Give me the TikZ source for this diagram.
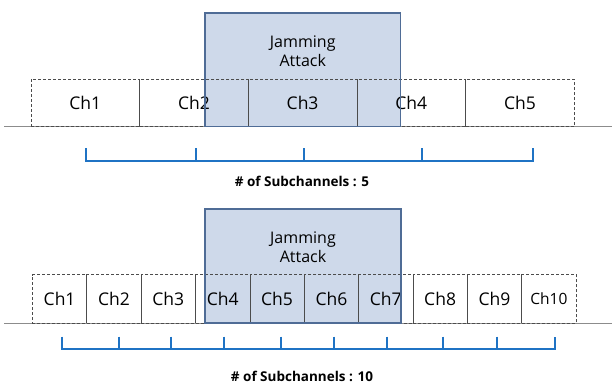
\documentclass[tikz,border=0pt]{standalone}
\usepackage{fontspec}
\setmainfont{Open Sans}
\usetikzlibrary{positioning}
\definecolor{jamfill}{RGB}{206,217,234}
\definecolor{jamline}{RGB}{79,108,150}
\definecolor{subblue}{RGB}{31,115,196}
\definecolor{axisgray}{RGB}{140,140,140}
\tikzstyle{every node}=[inner sep=0pt,outer sep=0pt]
\tikzstyle{chan}=[draw=black!70,line width=0.7pt,dash pattern=on 3pt off 2pt,font=\fontsize{17.5}{20}\selectfont]
\tikzstyle{chanbig}=[chan,minimum width=108.65pt,minimum height=47.5pt]
\tikzstyle{chansmall}=[chan,minimum width=54.36pt,minimum height=48.5pt]
\tikzstyle{jambox}=[fill=jamfill]
\tikzstyle{jamedge}=[draw=jamline,line width=1.8pt]
\tikzstyle{jamtext}=[align=center,font=\fontsize{16}{19.5}\selectfont]
\tikzstyle{axis}=[draw=axisgray,line width=1.3pt]
\tikzstyle{bracket}=[draw=subblue,line width=1.3pt]
\tikzstyle{sublabel}=[font=\fontsize{13.5}{16}\selectfont\bfseries]

\begin{document}
\begin{tikzpicture}[x=1pt,y=-1pt]
\useasboundingbox (0,0) rectangle (612,383);

% five subchannels
\node[jambox,minimum width=195.5pt,minimum height=113.5pt] (jamA) at (302.75,69.75) {};
\draw[axis] (4,126.7) -- (612,126.7);
\node[chanbig] (a1) at (85.3,102.75) {Ch1};
\node[chanbig,right=0pt of a1] (a2) {Ch2};
\node[chanbig,right=0pt of a2] (a3) {Ch3};
\node[chanbig,right=0pt of a3] (a4) {Ch4};
\node[chanbig,right=0pt of a4] (a5) {Ch5};
\draw[jamedge] (jamA.south west) rectangle (jamA.north east);
\node[jamtext] (jamAtext) at (302.75,51.3) {Jamming\\Attack};
\draw[bracket] (86,148) -- (86,161) -| (533,148);
\draw[bracket] (196,148) -- (196,161) (304,148) -- (304,161) (422,148) -- (422,161);
\node[sublabel] (subA) at (302,181) {\# of Subchannels : 5};

% ten subchannels
\node[jambox,minimum width=196pt,minimum height=113.7pt] (jamB) at (303,266.2) {};
\draw[axis] (4,323.2) -- (612,323.2);
\node[chansmall] (b1) at (59.6,298.75) {Ch1};
\node[chansmall,right=0pt of b1] (b2) {Ch2};
\node[chansmall,right=0pt of b2] (b3) {Ch3};
\node[chansmall,right=0pt of b3] (b4) {Ch4};
\node[chansmall,right=0pt of b4] (b5) {Ch5};
\node[chansmall,right=0pt of b5] (b6) {Ch6};
\node[chansmall,right=0pt of b6] (b7) {Ch7};
\node[chansmall,right=0pt of b7] (b8) {Ch8};
\node[chansmall,right=0pt of b8] (b9) {Ch9};
\node[chansmall,right=0pt of b9,font=\fontsize{15.5}{18}\selectfont] (b10) {Ch10};
\draw[jamedge] (jamB.south west) rectangle (jamB.north east);
\node[jamtext] (jamBtext) at (303,247) {Jamming\\Attack};
\draw[bracket] (62,336.5) -- (62,349) -| (555,336.5);
\draw[bracket] (119,336.5) -- (119,349) (171,336.5) -- (171,349) (224,336.5) -- (224,349)
  (281,336.5) -- (281,349) (334,336.5) -- (334,349) (387,336.5) -- (387,349)
  (443,336.5) -- (443,349) (497,336.5) -- (497,349);
\node[sublabel] (subB) at (302,376) {\# of Subchannels : 10};
\end{tikzpicture}
\end{document}
